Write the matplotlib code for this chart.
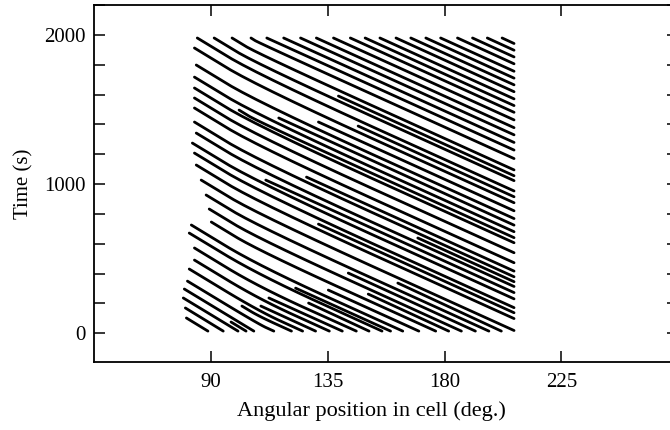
import matplotlib
matplotlib.use("Agg")
import matplotlib.pyplot as plt
from matplotlib.ticker import MultipleLocator
import numpy as np

# Trajectories: each entry is a polyline (angle in deg, time in s)
traj_theta = [
    # lines entering from the top edge
    [202.2, 206.8], [196.5, 206.8], [190.8, 206.8], [185.0, 206.8], [178.5, 206.8],
    [172.8, 206.8], [167.0, 206.8], [161.3, 206.8], [155.1, 206.8], [149.4, 206.8],
    [143.7, 206.8], [137.2, 206.8], [130.6, 206.8], [124.5, 206.8], [118.0, 206.8],
    [111.5, 206.8], [105.4, 108.4, 206.8], [98.1, 108.4, 206.8], [91.2, 108.4, 206.8],
    [84.7, 108.4, 206.8],
    # lines entering from the left edge
    [83.6, 108.4, 206.8], [84.3, 108.4, 206.8], [83.6, 108.4, 206.8], [83.6, 108.4, 206.8],
    [83.6, 108.4, 206.8], [83.6, 108.4, 206.8], [83.6, 108.4, 206.8], [84.3, 108.4, 206.8],
    [82.8, 108.4, 206.8], [83.6, 108.4, 206.8], [84.3, 108.4, 206.8], [86.2, 108.4, 206.8],
    [88.1, 108.4, 197.1], [89.3, 108.4, 186.5], [90.1, 108.4, 176.6], [82.4, 108.4, 163.9],
    [81.6, 108.4, 155.9], [83.6, 108.4, 146.0], [83.6, 108.4, 135.6], [81.6, 108.4, 125.3],
    [80.9, 108.4, 114.2], [79.7, 106.5], [79.3, 100.4], [80.1, 94.7], [80.5, 88.8],
    # lines starting inside the field
    [100.8, 108.4, 206.8], [131.4, 206.8], [126.8, 206.8], [111.1, 206.8], [131.4, 206.8],
    [97.7, 103.5], [146.7, 206.8], [139.1, 206.8], [116.1, 206.8], [169.7, 206.8],
    [101.9, 108.4, 121.0], [109.2, 130.3], [112.3, 140.6], [127.6, 150.9], [122.6, 159.2],
    [135.2, 170.1], [150.6, 181.6], [142.9, 191.9], [162.0, 201.9],
]
traj_time = [
    [1979, 1942], [1979, 1897], [1979, 1852], [1979, 1806], [1979, 1756],
    [1979, 1710], [1979, 1665], [1979, 1619], [1979, 1571], [1979, 1526],
    [1979, 1481], [1979, 1430], [1979, 1378], [1979, 1330], [1979, 1279],
    [1979, 1228], [1979, 1946, 1171], [1979, 1870, 1095], [1979, 1798, 1023],
    [1979, 1729, 954],
    [1912, 1650, 875], [1798, 1544, 769], [1717, 1456, 681], [1644, 1382, 607],
    [1577, 1315, 540], [1510, 1248, 473], [1416, 1154, 379], [1342, 1089, 314],
    [1275, 1006, 231], [1208, 947, 172], [1128, 874, 99], [1027, 794, 19],
    [927, 714, 15], [833, 632, 15], [746, 553, 15], [726, 452, 15],
    [672, 391, 15], [572, 310, 15], [491, 230, 15], [431, 149, 15],
    [350, 61, 15], [297, 15], [237, 15], [170, 15], [103, 15],
    [1496, 1416, 641], [1416, 821], [1047, 417], [1027, 273], [732, 138],
    [76, 15], [1389, 915], [1590, 1056], [1443, 725], [639, 346],
    [183, 115, 15], [183, 15], [237, 15], [203, 15], [303, 15],
    [290, 15], [263, 15], [404, 15], [337, 15],
]

x_ticks = [90, 135, 180, 225]
y_ticks = [0, 1000, 2000]


def rounded(xs, ys, n=3):
    """Chaikin corner cutting so that bends are drawn as smooth curves."""
    p = np.column_stack([xs, ys]).astype(float)
    for _ in range(n):
        if len(p) < 3:
            break
        q = [p[0]]
        for a, b in zip(p[:-1], p[1:]):
            q.append(0.75 * a + 0.25 * b)
            q.append(0.25 * a + 0.75 * b)
        q.append(p[-1])
        p = np.array(q)
    return p[:, 0], p[:, 1]


plt.rcParams['font.family'] = ['Liberation Serif', 'DejaVu Serif']

W, H = 670, 430
fig = plt.figure(figsize=(6.7, 4.3), dpi=100)
ax = fig.add_axes([94.3 / W, 1 - 361.7 / H, (678 - 94.3) / W, (361.7 - 5) / H])

for th, tt in zip(traj_theta, traj_time):
    sx, sy = rounded(th, tt)
    ax.plot(sx, sy, color='black', lw=2.0, solid_capstyle='round',
            solid_joinstyle='round')

ax.set_xlim(45, 270)
ax.set_ylim(-190, 2200)
ax.set_xticks(x_ticks)
ax.set_yticks(y_ticks)
ax.yaxis.set_minor_locator(MultipleLocator(200))
ax.tick_params(which='both', direction='in', top=True, right=True,
               length=8, width=1.1, labelsize=15, colors='black')
ax.tick_params(axis='x', pad=8)
ax.tick_params(axis='y', pad=6)
for s in ax.spines.values():
    s.set_linewidth(1.3)

ax.set_xlabel('Angular position in cell (deg.)', fontsize=16, labelpad=6)
ax.xaxis.set_label_coords((371 - 94.3) / (678 - 94.3), -0.11)
ax.set_ylabel('Time (s)', fontsize=15, labelpad=8)

fig.savefig('out.png', dpi=100)
